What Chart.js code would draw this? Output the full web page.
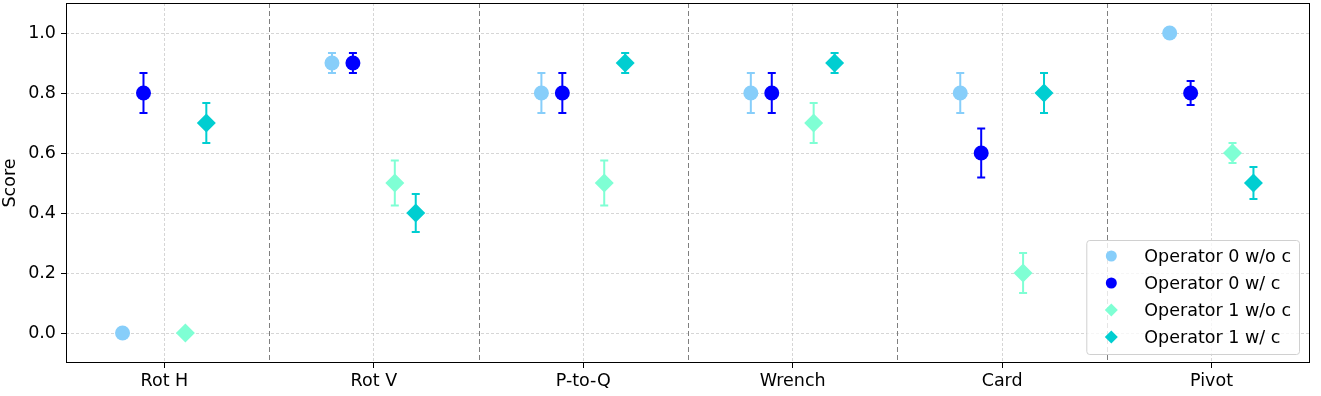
<!DOCTYPE html>
<html>
<head>
<meta charset="utf-8">
<script src="https://cdn.jsdelivr.net/npm/chart.js@4.4.1/dist/chart.umd.min.js"></script>
<style>
html, body { margin: 0; padding: 0; background: #fff; }
canvas { display: block; }
</style>
</head>
<body>
<canvas id="myChart" width="1321" height="396"></canvas>
<script>
var categories = ['Rot H', 'Rot V', 'P-to-Q', 'Wrench', 'Card', 'Pivot'];
var seriesNames = ['Operator 0 w/o c', 'Operator 0 w/ c', 'Operator 1 w/o c', 'Operator 1 w/ c'];

var op0NoC = [0.0, 0.9, 0.8, 0.8, 0.8, 1.0];
var op0NoCErr = [0, 0.033, 0.067, 0.067, 0.067, 0];
var op0C = [0.8, 0.9, 0.8, 0.8, 0.6, 0.8];
var op0CErr = [0.067, 0.033, 0.067, 0.067, 0.082, 0.04];
var op1NoC = [0.0, 0.5, 0.5, 0.7, 0.2, 0.6];
var op1NoCErr = [0, 0.075, 0.075, 0.067, 0.067, 0.033];
var op1C = [0.7, 0.4, 0.9, 0.9, 0.8, 0.5];
var op1CErr = [0.067, 0.063, 0.033, 0.033, 0.067, 0.053];

var yTicks = [0.0, 0.2, 0.4, 0.6, 0.8, 1.0];
var offsets = [-0.2, -0.1, 0.1, 0.2];
var colors = ['#87CEFA', '#0000FF', '#7FFFD4', '#00CED1'];

var FONT = 'DejaVu Sans';
var FSIZE = 17.5;

function points(vals, k) {
    return vals.map(function (v, i) { return { x: i + offsets[k], y: v }; });
}

function makeSet(k, vals, errs, style) {
    return {
        label: seriesNames[k],
        data: points(vals, k),
        errors: errs,
        backgroundColor: colors[k],
        borderColor: colors[k],
        borderWidth: 0,
        pointStyle: style,
        pointRadius: style === 'circle' ? 7.5 : 9.5,
        showLine: false
    };
}

var extras = {
    id: 'extras',
    beforeDatasetsDraw: function (chart) {
        var ctx = chart.ctx, xs = chart.scales.x, ys = chart.scales.y, area = chart.chartArea;
        ctx.save();
        // category separators
        ctx.strokeStyle = '#7f7f7f';
        ctx.lineWidth = 1;
        ctx.setLineDash([5, 3]);
        for (var i = 0; i < categories.length - 1; i++) {
            var px = Math.round(xs.getPixelForValue(i + 0.5)) + 0.5;
            ctx.beginPath();
            ctx.moveTo(px, area.top);
            ctx.lineTo(px, area.bottom);
            ctx.stroke();
        }
        ctx.setLineDash([]);
        // error bars
        chart.data.datasets.forEach(function (ds) {
            ctx.strokeStyle = ds.borderColor;
            ctx.lineWidth = 2;
            ds.data.forEach(function (pt, j) {
                var e = ds.errors[j];
                if (!e) return;
                var x = xs.getPixelForValue(pt.x);
                var t = ys.getPixelForValue(pt.y + e);
                var b = ys.getPixelForValue(pt.y - e);
                ctx.beginPath();
                ctx.moveTo(x, t); ctx.lineTo(x, b);
                ctx.moveTo(x - 4, t); ctx.lineTo(x + 4, t);
                ctx.moveTo(x - 4, b); ctx.lineTo(x + 4, b);
                ctx.stroke();
            });
        });
        ctx.restore();
    },
    afterDraw: function (chart) {
        var ctx = chart.ctx, area = chart.chartArea;
        ctx.save();
        // frame
        ctx.strokeStyle = '#000';
        ctx.lineWidth = 1;
        ctx.strokeRect(Math.round(area.left) + 0.5, Math.round(area.top) + 0.5,
            Math.round(area.right - area.left) - 1, Math.round(area.bottom - area.top) - 1);

        // legend
        ctx.font = FSIZE + 'px "' + FONT + '"';
        var maxW = 0;
        chart.data.datasets.forEach(function (ds) {
            maxW = Math.max(maxW, ctx.measureText(ds.label).width);
        });
        var w = 58 + maxW + 8, h = 114;
        var x0 = area.right - 11 - w, y0 = area.bottom - 9 - h;
        ctx.beginPath();
        ctx.roundRect(x0 + 0.5, y0 + 0.5, w, h, 3);
        ctx.fillStyle = 'rgba(255,255,255,0.8)';
        ctx.fill();
        ctx.strokeStyle = '#d0d0d0';
        ctx.stroke();
        ctx.textBaseline = 'middle';
        chart.data.datasets.forEach(function (ds, k) {
            var cy = y0 + 16 + k * 27, cx = x0 + 25;
            ctx.fillStyle = ds.backgroundColor;
            ctx.beginPath();
            if (ds.pointStyle === 'circle') {
                ctx.arc(cx, cy, 5.5, 0, Math.PI * 2);
            } else {
                ctx.moveTo(cx, cy - 6.5); ctx.lineTo(cx + 6.5, cy);
                ctx.lineTo(cx, cy + 6.5); ctx.lineTo(cx - 6.5, cy);
                ctx.closePath();
            }
            ctx.fill();
            ctx.fillStyle = '#000';
            ctx.fillText(ds.label, x0 + 58, cy + 1);
        });
        ctx.restore();
    }
};

var ctx = document.getElementById('myChart').getContext('2d');

var myChart = new Chart(ctx, {
    type: 'scatter',
    data: {
        datasets: [
            makeSet(0, op0NoC, op0NoCErr, 'circle'),
            makeSet(1, op0C, op0CErr, 'circle'),
            makeSet(2, op1NoC, op1NoCErr, 'rectRot'),
            makeSet(3, op1C, op1CErr, 'rectRot')
        ]
    },
    options: {
        responsive: false,
        animation: false,
        events: [],
        layout: { autoPadding: false, padding: { top: 3, right: 11, left: 0, bottom: 0 } },
        plugins: {
            legend: { display: false },
            tooltip: { enabled: false }
        },
        scales: {
            x: {
                type: 'linear',
                min: -0.47,
                max: 5.47,
                afterBuildTicks: function (scale) {
                    scale.ticks = categories.map(function (c, i) { return { value: i }; });
                },
                afterFit: function (scale) {
                    scale.height = 33;
                    scale.paddingLeft = 0;
                    scale.paddingRight = 0;
                },
                ticks: {
                    autoSkip: false,
                    maxRotation: 0,
                    padding: 3,
                    color: '#000',
                    font: { family: FONT, size: FSIZE },
                    callback: function (v) { return categories[v]; }
                },
                grid: {
                    color: 'rgba(176,176,176,0.75)',
                    lineWidth: 0.7,
                    tickColor: '#000',
                    tickLength: 5,
                    tickWidth: 1
                },
                border: { display: false, dash: [3, 2] }
            },
            y: {
                min: -0.1,
                max: 1.1,
                afterBuildTicks: function (scale) {
                    scale.ticks = yTicks.map(function (v) { return { value: v }; });
                },
                afterFit: function (scale) {
                    scale.width = 66;
                    scale.paddingTop = 0;
                    scale.paddingBottom = 0;
                },
                ticks: {
                    padding: 5,
                    color: '#000',
                    font: { family: FONT, size: FSIZE },
                    callback: function (v) { return v.toFixed(1); }
                },
                grid: {
                    color: 'rgba(176,176,176,0.75)',
                    lineWidth: 0.7,
                    tickColor: '#000',
                    tickLength: 5,
                    tickWidth: 1
                },
                border: { display: false, dash: [3, 2] },
                title: {
                    display: true,
                    text: 'Score',
                    color: '#000',
                    padding: { top: 0, bottom: 4 },
                    font: { family: FONT, size: FSIZE }
                }
            }
        }
    },
    plugins: [extras]
});
</script>
</body>
</html>
